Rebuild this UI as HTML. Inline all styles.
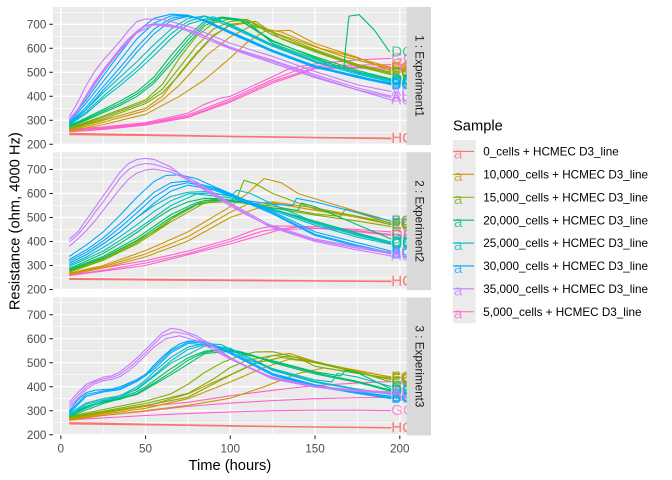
<!DOCTYPE html>
<html><head><meta charset="utf-8"><style>
body{margin:0;background:#fff}
svg{display:block;font-family:"Liberation Sans",Arial,sans-serif}
.d polyline{fill:none;stroke-width:1.1;vector-effect:non-scaling-stroke;stroke-linejoin:round}
.r{stroke:#F8766D}.y{stroke:#CD9600}.o{stroke:#7CAE00}.g{stroke:#00BE67}.c{stroke:#00BFC4}.b{stroke:#00A9FF}.u{stroke:#C77CFF}.p{stroke:#FF61CC}
.lb text{font-size:15px;opacity:.72}
.tr{fill:#F8766D}.ty{fill:#CD9600}.to{fill:#7CAE00}.tg{fill:#00BE67}.tc{fill:#00BFC4}.tb{fill:#00A9FF}.tu{fill:#C77CFF}.tp{fill:#FF61CC}
.ax{font-size:11.7px;fill:#4D4D4D}
.tk{stroke:#333;stroke-width:1.1}
.gmn{stroke:#fff;stroke-width:.71}
.gmj{stroke:#fff;stroke-width:1.42}
.st{font-size:11.7px;fill:#1A1A1A}
.lg{font-size:11.7px;fill:#000}
</style></head><body>
<svg width="672" height="480" viewBox="0 0 672 480" xmlns="http://www.w3.org/2000/svg">
<defs>
<clipPath id="cp" clipPathUnits="userSpaceOnUse"><rect x="53" y="0" width="353.7" height="138"/></clipPath>
<g id="grid">
<rect x="53" y="0" width="353.7" height="138" fill="#EBEBEB"/>
<g class="gmn">
<line x1="53" x2="406.7" y1="5.3" y2="5.3"/><line x1="53" x2="406.7" y1="29.3" y2="29.3"/><line x1="53" x2="406.7" y1="53.3" y2="53.3"/><line x1="53" x2="406.7" y1="77.3" y2="77.3"/><line x1="53" x2="406.7" y1="101.3" y2="101.3"/><line x1="53" x2="406.7" y1="125.3" y2="125.3"/>
<line y1="0" y2="138" x1="103.2" x2="103.2"/><line y1="0" y2="138" x1="187.9" x2="187.9"/><line y1="0" y2="138" x1="272.7" x2="272.7"/><line y1="0" y2="138" x1="357.4" x2="357.4"/>
</g>
<g class="gmj">
<line x1="53" x2="406.7" y1="17.3" y2="17.3"/><line x1="53" x2="406.7" y1="41.3" y2="41.3"/><line x1="53" x2="406.7" y1="65.3" y2="65.3"/><line x1="53" x2="406.7" y1="89.3" y2="89.3"/><line x1="53" x2="406.7" y1="113.3" y2="113.3"/><line x1="53" x2="406.7" y1="137.3" y2="137.3"/>
<line y1="0" y2="138" x1="60.8" x2="60.8"/><line y1="0" y2="138" x1="145.55" x2="145.55"/><line y1="0" y2="138" x1="230.3" x2="230.3"/><line y1="0" y2="138" x1="315.05" x2="315.05"/><line y1="0" y2="138" x1="399.8" x2="399.8"/>
</g>
</g>
<g id="yt">
<text x="46.4" y="21.5">700</text><text x="46.4" y="45.5">600</text><text x="46.4" y="69.5">500</text><text x="46.4" y="93.5">400</text><text x="46.4" y="117.5">300</text><text x="46.4" y="141.5">200</text>
</g>
<g id="ytk">
<line x1="49.3" x2="53" y1="17.3" y2="17.3"/><line x1="49.3" x2="53" y1="41.3" y2="41.3"/><line x1="49.3" x2="53" y1="65.3" y2="65.3"/><line x1="49.3" x2="53" y1="89.3" y2="89.3"/><line x1="49.3" x2="53" y1="113.3" y2="113.3"/><line x1="49.3" x2="53" y1="137.3" y2="137.3"/>
</g>
</defs>

<!-- PANEL 1 -->
<g transform="translate(0,7)">
<use href="#grid"/>
<g class="ax" text-anchor="end"><use href="#yt"/></g>
<g class="tk"><use href="#ytk"/></g>
<rect x="406.7" y="0" width="24.3" height="138" fill="#D9D9D9"/>
<text class="st" x="418.9" y="69" text-anchor="middle" dominant-baseline="central" transform="rotate(90 418.9 69)">1 : Experiment1</text>
<g clip-path="url(#cp)">
<g class="d" transform="translate(60.8,185.3) scale(1.695,-0.24)">
<polyline class="r" points="5,246 50,240 100,234 150,229 195,226"/>
<polyline class="r" points="5,243 50,238 100,232 150,228 195,224"/>
<polyline class="r" points="5,240 60,236 120,230 195,223"/>
<polyline class="p" points="5,262 25,272 50,290 75,330 84,364 94,392 100,400 125,482 135,516 150,535 175,552 195,558"/>
<polyline class="p" points="5,258 25,268 50,286 75,322 100,390 125,470 140,510 150,526 175,530 195,532"/>
<polyline class="p" points="5,255 25,265 50,283 75,316 100,382 125,462 150,520 175,522 195,520"/>
<polyline class="p" points="5,252 25,262 50,280 75,312 100,376 125,455 150,515 175,518 195,512"/>
<polyline class="y" points="5,262 25,300 50,350 60,400 70,495 80,580 90,655 100,695 110,705 120,680 150,606 167,565 195,515"/>
<polyline class="y" points="5,258 25,292 50,340 60,385 70,447 86,570 100,648 112,692 130,668 153,600 168,573 195,520"/>
<polyline class="y" points="5,255 25,282 50,325 70,400 85,470 100,560 110,625 120,670 135,675 150,620 175,562 195,505"/>
<polyline class="o" points="5,268 25,318 50,385 60,450 70,560 80,650 90,705 100,722 110,720 125,665 150,595 175,533 195,500"/>
<polyline class="o" points="5,266 25,312 50,378 60,430 70,520 80,610 90,680 100,712 110,718 125,655 150,590 175,528 195,495"/>
<polyline class="o" points="5,264 25,305 50,370 60,415 70,490 80,575 90,650 100,700 115,712 130,640 150,585 175,525 195,490"/>
<polyline class="g" points="5,278 15,310 25,345 35,380 45,420 55,480 65,570 75,650 85,715 95,730 105,722 125,632 150,560 167,517 168,600 170,734 176,740 185,676 194,585"/>
<polyline class="g" points="5,275 15,305 25,338 35,370 45,410 55,465 65,550 75,635 85,705 95,728 105,720 125,628 150,565 175,508 195,472"/>
<polyline class="g" points="5,272 15,300 25,332 35,362 45,400 55,455 65,535 75,620 85,695 95,725 110,712 125,620 150,555 175,502 195,468"/>
<polyline class="c" points="5,288 15,345 25,415 35,480 45,545 55,615 65,680 75,725 85,735 100,700 125,615 150,548 175,497 195,465"/>
<polyline class="c" points="5,284 15,335 25,400 35,460 45,520 55,590 65,660 75,712 85,733 100,690 125,608 150,542 175,492 195,460"/>
<polyline class="c" points="5,280 15,328 25,390 35,445 45,505 55,570 65,640 75,700 90,732 100,695 125,612 150,546 175,498 195,466"/>
<polyline class="b" points="5,298 15,385 25,485 35,580 45,670 55,725 65,742 75,738 85,715 100,668 125,590 150,525 175,483 195,455"/>
<polyline class="b" points="5,292 15,372 25,462 35,550 45,640 55,705 65,735 75,738 85,712 100,662 125,585 150,520 175,480 195,450"/>
<polyline class="b" points="5,288 15,355 25,440 35,520 45,605 55,680 65,725 75,736 85,715 100,665 125,588 150,522 175,478 195,448"/>
<polyline class="b" points="5,285 15,345 25,425 35,500 45,585 55,660 65,715 75,733 85,718 100,670 125,592 150,527 175,485 195,452"/>
<polyline class="u" points="5,315 10,375 15,445 20,505 25,550 30,590 35,630 40,675 45,712 50,722 60,720 70,702 80,680 100,621 125,566 150,503 175,448 195,420"/>
<polyline class="u" points="5,305 10,345 15,405 20,462 25,510 30,555 35,600 40,640 45,672 50,695 55,702 65,698 80,668 100,600 125,545 150,483 175,427 195,395"/>
<polyline class="u" points="5,300 10,340 15,400 20,455 25,505 30,548 35,595 40,635 45,668 50,692 57,700 70,690 85,650 100,605 125,550 150,490 175,435 195,400"/>
<polyline class="u" points="5,298 15,395 25,500 35,590 45,665 55,698 70,685 100,598 150,478 195,385"/>
</g>
<g class="lb" dominant-baseline="central">
<text class="tr" x="391.3" y="131.1">HC</text><text class="tr" x="391.3" y="131.6">HC</text>
<text class="tp" x="391.3" y="51.4">GC</text><text class="tp" x="391.3" y="57.6">GC</text><text class="tp" x="391.3" y="60.5">GC</text><text class="tp" x="391.3" y="62.4">GC</text>
<text class="ty" x="391.3" y="61.7">FC</text><text class="ty" x="391.3" y="60.5">FC</text><text class="ty" x="391.3" y="64.1">FC</text>
<text class="to" x="391.3" y="65.3">EC</text><text class="to" x="391.3" y="66.5">EC</text><text class="to" x="391.3" y="67.7">EC</text>
<text class="tc" x="391.3" y="73.7">CC</text><text class="tc" x="391.3" y="74.9">CC</text><text class="tc" x="391.3" y="73.5">CC</text>
<text class="tg" x="391.3" y="44.9">DC</text><text class="tg" x="391.3" y="72.0">DC</text><text class="tg" x="391.3" y="73.0">DC</text>
<text class="tb" x="391.3" y="76.1">BC</text><text class="tb" x="391.3" y="77.3">BC</text><text class="tb" x="391.3" y="77.8">BC</text><text class="tb" x="391.3" y="76.8">BC</text>
<text class="tu" x="391.3" y="84.5">AU</text><text class="tu" x="391.3" y="90.5">AU</text><text class="tu" x="391.3" y="89.3">AU</text><text class="tu" x="391.3" y="92.9">AU</text>
</g>
</g>
</g>

<!-- PANEL 2 -->
<g transform="translate(0,152.2)">
<use href="#grid"/>
<g class="ax" text-anchor="end"><use href="#yt"/></g>
<g class="tk"><use href="#ytk"/></g>
<rect x="406.7" y="0" width="24.3" height="138" fill="#D9D9D9"/>
<text class="st" x="418.9" y="69" text-anchor="middle" dominant-baseline="central" transform="rotate(90 418.9 69)">2 : Experiment2</text>
<g clip-path="url(#cp)">
<g class="d" transform="translate(60.8,185.3) scale(1.695,-0.24)">
<polyline class="r" points="5,246 50,243 100,240 150,237 195,235"/>
<polyline class="r" points="5,244 50,241 100,238 150,235 195,233"/>
<polyline class="r" points="5,242 60,239 120,236 195,234"/>
<polyline class="p" points="5,265 25,290 50,320 75,360 100,410 115,450 125,465 150,462 175,450 195,440"/>
<polyline class="p" points="5,260 25,280 50,310 75,350 100,400 120,445 140,460 170,445 195,425"/>
<polyline class="p" points="5,258 50,300 100,390 130,450 160,455 195,430"/>
<polyline class="y" points="5,268 25,300 50,362 75,440 100,545 110,600 115,632 120,662 130,645 140,600 150,578 175,525 195,485"/>
<polyline class="y" points="5,265 25,295 50,348 75,420 100,522 110,555 125,565 150,540 175,505 195,478"/>
<polyline class="y" points="5,262 25,290 50,336 75,402 100,500 125,560 150,530 175,500 195,470"/>
<polyline class="o" points="5,278 25,330 45,402 60,462 70,520 80,555 90,570 100,572 104,582 108,655 115,640 125,600 150,535 175,505 195,470"/>
<polyline class="o" points="5,275 25,325 45,396 65,492 80,552 95,572 110,560 125,540 150,510 175,485 195,462"/>
<polyline class="o" points="5,272 25,322 45,390 65,482 85,562 100,566 125,548 150,515 165,505 168,535 175,520 195,475"/>
<polyline class="g" points="5,288 15,318 25,350 35,392 45,438 55,490 65,535 75,565 85,580 95,578 110,562 125,535 150,485 175,435 195,398"/>
<polyline class="g" points="5,284 25,338 45,415 65,512 80,562 90,576 110,560 130,525 150,480 175,430 195,392"/>
<polyline class="g" points="5,280 25,332 45,405 65,500 85,572 100,570 125,540 140,530 142,560 150,545 175,470 195,410"/>
<polyline class="c" points="5,310 15,345 25,390 35,440 45,500 55,550 65,588 75,605 85,608 100,590 125,535 150,475 175,425 195,392"/>
<polyline class="c" points="5,302 15,335 25,375 35,420 45,470 55,525 65,570 75,598 90,602 100,588 104,614 112,600 125,555 150,480 175,430 195,398"/>
<polyline class="c" points="5,296 25,360 45,450 65,550 80,598 100,582 125,530 150,468 175,418 195,388"/>
<polyline class="b" points="5,338 15,385 25,440 35,510 45,585 55,650 62,675 70,678 80,662 90,630 100,600 110,570 125,555 137,550 139,580 150,565 175,520 195,485"/>
<polyline class="b" points="5,325 15,365 25,415 35,475 45,540 55,605 65,645 75,652 90,625 100,598 125,525 150,440 175,395 195,360"/>
<polyline class="b" points="5,318 15,355 25,402 35,458 45,520 55,585 65,630 75,645 90,620 100,595 125,520 150,430 175,385 195,352"/>
<polyline class="b" points="5,310 15,345 25,390 35,440 45,500 55,560 65,610 75,635 90,615 100,590 125,515 150,425 175,380 195,348"/>
<polyline class="u" points="5,410 10,440 15,490 20,540 25,590 30,640 35,690 40,725 45,742 50,746 55,742 65,710 72,672 80,635 88,600 100,548 110,510 123,465 150,405 175,372 195,350"/>
<polyline class="u" points="5,398 10,428 15,470 20,520 25,565 30,615 35,665 40,700 45,718 50,725 55,722 65,700 80,648 100,560 123,470 150,410 175,378 195,355"/>
<polyline class="u" points="5,380 10,410 15,445 20,485 25,530 30,575 35,620 40,660 45,685 50,698 55,702 65,690 80,640 100,555 123,462 150,400 175,365 195,340"/>
</g>
<g class="lb" dominant-baseline="central">
<text class="tr" x="391.3" y="128.9">HC</text><text class="tr" x="391.3" y="129.4">HC</text>
<text class="tp" x="391.3" y="79.7">GC</text><text class="tp" x="391.3" y="83.3">GC</text><text class="tp" x="391.3" y="82.1">GC</text>
<text class="ty" x="391.3" y="68.9">FC</text><text class="ty" x="391.3" y="70.6">FC</text><text class="ty" x="391.3" y="72.5">FC</text>
<text class="to" x="391.3" y="72.5">EC</text><text class="to" x="391.3" y="74.4">EC</text><text class="to" x="391.3" y="71.3">EC</text>
<text class="tg" x="391.3" y="89.8">DC</text><text class="tg" x="391.3" y="91.2">DC</text><text class="tg" x="391.3" y="86.9">DC</text>
<text class="tc" x="391.3" y="91.2">CC</text><text class="tc" x="391.3" y="89.8">CC</text><text class="tc" x="391.3" y="92.2">CC</text>
<text class="tb" x="391.3" y="68.9">BC</text><text class="tb" x="391.3" y="98.9">BC</text><text class="tb" x="391.3" y="100.8">BC</text><text class="tb" x="391.3" y="101.8">BC</text>
<text class="tu" x="391.3" y="101.3">AU</text><text class="tu" x="391.3" y="100.1">AU</text><text class="tu" x="391.3" y="103.7">AU</text>
</g>
</g>
</g>

<!-- PANEL 3 -->
<g transform="translate(0,297.4)">
<use href="#grid"/>
<g class="ax" text-anchor="end"><use href="#yt"/></g>
<g class="tk"><use href="#ytk"/></g>
<rect x="406.7" y="0" width="24.3" height="138" fill="#D9D9D9"/>
<text class="st" x="418.9" y="69" text-anchor="middle" dominant-baseline="central" transform="rotate(90 418.9 69)">3 : Experiment3</text>
<g clip-path="url(#cp)">
<g class="d" transform="translate(60.8,185.3) scale(1.695,-0.24)">
<polyline class="r" points="5,250 25,248 50,244 100,238 150,232 195,228"/>
<polyline class="r" points="5,247 50,242 100,236 150,233 195,230"/>
<polyline class="r" points="5,245 60,240 120,234 195,229"/>
<polyline class="p" points="5,275 25,295 50,318 75,335 100,362 125,385 150,405 175,415 195,422"/>
<polyline class="p" points="5,268 25,280 50,298 75,318 100,332 125,342 150,350 175,354 195,355"/>
<polyline class="p" points="5,262 25,270 50,280 75,288 100,295 125,300 150,302 175,302 195,300"/>
<polyline class="y" points="5,266 25,290 50,318 75,370 100,450 115,500 125,530 135,538 150,505 175,465 195,440"/>
<polyline class="y" points="5,263 25,285 50,310 75,350 100,420 120,480 135,515 150,500 175,468 195,440"/>
<polyline class="y" points="5,260 25,280 50,300 75,322 100,352 120,400 140,455 155,478 175,458 195,430"/>
<polyline class="o" points="5,276 25,305 50,340 65,370 75,410 85,460 95,500 105,528 115,545 125,546 140,520 150,485 175,455 195,435"/>
<polyline class="o" points="5,272 25,298 50,330 75,372 90,432 100,480 110,510 125,530 140,522 150,500 175,460 195,430"/>
<polyline class="o" points="5,269 25,294 50,322 75,356 100,448 115,498 130,522 150,505 175,462 195,420"/>
<polyline class="g" points="5,283 15,318 25,338 35,352 45,380 50,400 55,425 65,475 75,520 85,548 95,556 105,548 125,505 150,458 175,422 195,385"/>
<polyline class="g" points="5,279 15,315 25,335 35,348 45,372 55,415 65,460 75,510 85,543 95,552 110,538 125,500 150,453 175,418 195,380"/>
<polyline class="g" points="5,276 25,330 45,368 65,450 85,538 100,548 125,508 150,462 165,445 168,468 175,458 195,390"/>
<polyline class="c" points="5,288 15,332 25,350 35,362 45,400 50,428 55,462 65,522 75,565 85,580 95,575 110,515 125,472 150,422 175,390 195,370"/>
<polyline class="c" points="5,282 15,326 25,344 35,356 45,392 55,448 65,508 75,555 85,575 100,560 125,468 150,418 175,388 195,368"/>
<polyline class="c" points="5,280 25,340 45,388 65,498 85,570 100,558 125,475 150,428 160,420 163,455 175,440 195,400"/>
<polyline class="b" points="5,300 10,345 15,375 20,385 25,388 30,390 35,400 40,415 45,430 50,452 55,490 60,525 65,555 70,578 75,590 85,590 100,545 125,455 150,408 175,378 195,360"/>
<polyline class="b" points="5,295 15,368 25,382 35,393 45,428 50,445 55,482 65,550 75,586 85,584 100,540 125,450 150,405 175,375 195,355"/>
<polyline class="b" points="5,290 15,360 25,378 35,388 45,422 55,472 65,542 75,580 90,574 100,538 125,448 150,402 175,372 195,350"/>
<polyline class="u" points="5,335 10,375 15,410 20,425 25,440 30,445 35,462 40,490 45,520 50,555 55,590 60,625 65,643 70,638 80,612 90,570 100,522 112,475 125,440 150,402 175,386 195,378"/>
<polyline class="u" points="5,325 10,362 15,400 20,420 25,432 30,438 35,452 40,478 45,508 50,542 55,578 60,612 67,628 75,618 85,585 100,518 125,436 150,400 175,383 195,375"/>
<polyline class="u" points="5,315 10,350 15,390 20,412 25,425 30,430 35,442 40,466 45,496 50,530 55,565 62,600 70,612 80,592 100,515 125,432 150,398 175,380 195,372"/>
</g>
<g class="lb" dominant-baseline="central">
<text class="tr" x="391.3" y="130.6">HC</text><text class="tr" x="391.3" y="130.1">HC</text>
<text class="tp" x="391.3" y="84.0">GC</text><text class="tp" x="391.3" y="100.1">GC</text><text class="tp" x="391.3" y="113.3">GC</text>
<text class="ty" x="391.3" y="79.7">FC</text><text class="ty" x="391.3" y="80.2">FC</text><text class="ty" x="391.3" y="82.1">FC</text>
<text class="to" x="391.3" y="80.9">EC</text><text class="to" x="391.3" y="82.1">EC</text><text class="to" x="391.3" y="84.5">EC</text>
<text class="tg" x="391.3" y="92.9">DC</text><text class="tg" x="391.3" y="94.1">DC</text><text class="tg" x="391.3" y="91.7">DC</text>
<text class="tc" x="391.3" y="96.5">CC</text><text class="tc" x="391.3" y="97.0">CC</text><text class="tc" x="391.3" y="89.3">CC</text>
<text class="tb" x="391.3" y="98.9">BC</text><text class="tb" x="391.3" y="100.1">BC</text><text class="tb" x="391.3" y="101.3">BC</text>
<text class="tu" x="391.3" y="94.6">AU</text><text class="tu" x="391.3" y="95.3">AU</text><text class="tu" x="391.3" y="96.0">AU</text>
</g>
</g>
</g>

<!-- X axis -->
<g class="tk">
<line x1="60.8" x2="60.8" y1="435.4" y2="439.1"/><line x1="145.55" x2="145.55" y1="435.4" y2="439.1"/><line x1="230.3" x2="230.3" y1="435.4" y2="439.1"/><line x1="315.05" x2="315.05" y1="435.4" y2="439.1"/><line x1="399.8" x2="399.8" y1="435.4" y2="439.1"/>
</g>
<g class="ax" text-anchor="middle">
<text x="60.8" y="452.7">0</text><text x="145.55" y="452.7">50</text><text x="230.3" y="452.7">100</text><text x="315.05" y="452.7">150</text><text x="399.8" y="452.7">200</text>
</g>
<text x="229.9" y="470" text-anchor="middle" font-size="14.7px" fill="#000">Time (hours)</text>
<text x="19.5" y="221.2" text-anchor="middle" font-size="14.7px" fill="#000" transform="rotate(-90 19.5 221.2)">Resistance (ohm, 4000 Hz)</text>

<!-- Legend -->
<text x="453" y="130.5" font-size="14.7px" fill="#000">Sample</text>
<rect x="452.7" y="140" width="23" height="183.3" fill="#EBEBEB"/>
<g stroke-width="1.1">
<line x1="453" x2="474" y1="151.45" y2="151.45" stroke="#F8766D"/>
<line x1="453" x2="474" y1="174.35" y2="174.35" stroke="#CD9600"/>
<line x1="453" x2="474" y1="197.25" y2="197.25" stroke="#7CAE00"/>
<line x1="453" x2="474" y1="220.15" y2="220.15" stroke="#00BE67"/>
<line x1="453" x2="474" y1="243.05" y2="243.05" stroke="#00BFC4"/>
<line x1="453" x2="474" y1="265.95" y2="265.95" stroke="#00A9FF"/>
<line x1="453" x2="474" y1="288.85" y2="288.85" stroke="#C77CFF"/>
<line x1="453" x2="474" y1="311.75" y2="311.75" stroke="#FF61CC"/>
</g>
<g class="lb">
<text class="tr" x="454" y="158.3">a</text>
<text class="ty" x="454" y="181.2">a</text>
<text class="to" x="454" y="204.1">a</text>
<text class="tg" x="454" y="227">a</text>
<text class="tc" x="454" y="249.9">a</text>
<text class="tb" x="454" y="272.8">a</text>
<text class="tu" x="454" y="295.7">a</text>
<text class="tp" x="454" y="318.6">a</text>
</g>
<g class="lg">
<text x="483.3" y="155.6">0_cells + HCMEC D3_line</text>
<text x="483.3" y="178.5">10,000_cells + HCMEC D3_line</text>
<text x="483.3" y="201.4">15,000_cells + HCMEC D3_line</text>
<text x="483.3" y="224.3">20,000_cells + HCMEC D3_line</text>
<text x="483.3" y="247.2">25,000_cells + HCMEC D3_line</text>
<text x="483.3" y="270.1">30,000_cells + HCMEC D3_line</text>
<text x="483.3" y="293">35,000_cells + HCMEC D3_line</text>
<text x="483.3" y="315.9">5,000_cells + HCMEC D3_line</text>
</g>
</svg>
</body></html>
